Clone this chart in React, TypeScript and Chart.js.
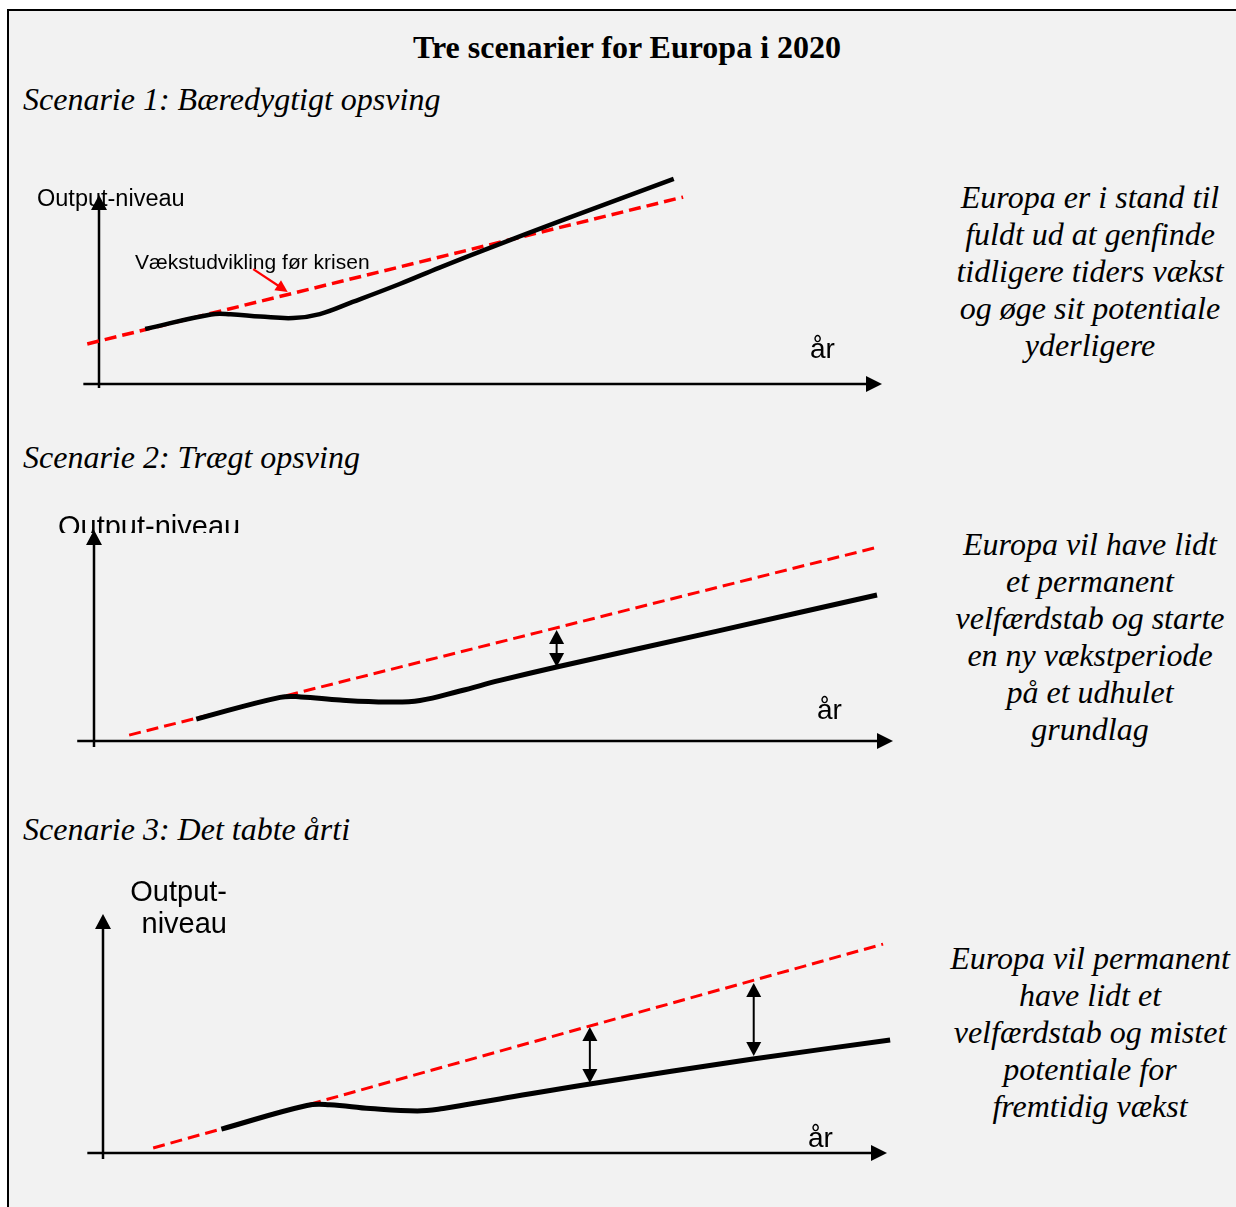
import React, { useEffect, useRef } from "react";
import { Chart, registerables } from "chart.js";

Chart.register(...registerables);

const SERIF = '"Liberation Serif", "Times New Roman", Times, serif';
const SANS = '"Liberation Sans", Arial, Helvetica, sans-serif';

// ---------- texts ----------
const titleText = "Tre scenarier for Europa i 2020";
const scenarioTitles = [
  "Scenarie 1: Bæredygtigt opsving",
  "Scenarie 2: Trægt opsving",
  "Scenarie 3: Det tabte årti",
];
const notes1 = [
  "Europa er i stand til",
  "fuldt ud at genfinde",
  "tidligere tiders vækst",
  "og øge sit potentiale",
  "yderligere",
];
const notes2 = [
  "Europa vil have lidt",
  "et permanent",
  "velfærdstab og starte",
  "en ny vækstperiode",
  "på et udhulet",
  "grundlag",
];
const notes3 = [
  "Europa vil permanent",
  "have lidt et",
  "velfærdstab og mistet",
  "potentiale for",
  "fremtidig vækst",
];
const yAxisLabel = "Output-niveau";
const yAxisLabelSplit = ["Output-", "niveau"];
const xAxisLabel = "år";
const trendLabel = "Vækstudvikling før krisen";

// ---------- data (x: år, 0..100 = x-axis; y: output-niveau, 0..100 = y-axis) ----------
// Scenario 1
const p1TrendX = [-1.5, 74.6];
const p1TrendY = [21.2, 98.9];
const p1CurveX = [5.9, 14.3, 16.8, 20.6, 24.8, 28.2, 32.4, 38.4, 43.5, 49.0, 59.8, 73.4];
const p1CurveY = [29.1, 36.8, 36.9, 35.7, 34.9, 37.0, 43.4, 52.9, 61.6, 70.6, 87.6, 108.5];
const p1PointerX = [19.7, 24.1];
const p1PointerY = [60.8, 48.7];

// Scenario 2
const p2TrendX = [4.4, 98.1];
const p2TrendY = [2.8, 91.9];
const p2CurveX = [12.8, 23.3, 25.9, 30.8, 36.7, 40.8, 45.8, 50.8, 57.9, 78.0, 98.0];
const p2CurveY = [10.4, 20.7, 20.9, 19.4, 18.5, 19.2, 23.7, 28.7, 35.1, 52.1, 69.2];
const p2GapX = [57.9];
const p2GapTop = [52.6];
const p2GapBottom = [35.1];

// Scenario 3
const p3TrendX = [6.4, 99.5];
const p3TrendY = [2.1, 87.4];
const p3CurveX = [15.1, 26.0, 28.9, 34.1, 40.1, 43.4, 46.8, 50.6, 62.1, 82.9, 100.4];
const p3CurveY = [10.0, 19.9, 20.2, 18.6, 17.6, 18.6, 20.5, 22.6, 28.9, 39.3, 47.3];
const p3GapX = [62.1, 83.0];
const p3GapTop = [52.7, 71.1];
const p3GapBottom = [29.3, 40.6];

type Label = {
  lines: string[];
  x: number;
  y: number;
  size: number;
  align: CanvasTextAlign;
  lineHeight?: number;
  clipY?: number;
};

type PanelCfg = {
  box: { left: number; top: number; width: number; height: number };
  origin: [number, number];
  tip: [number, number];
  xAxisFrom: number;
  yAxisFrom: number;
  trendX: number[];
  trendY: number[];
  curveX: number[];
  curveY: number[];
  gapX: number[];
  gapTop: number[];
  gapBottom: number[];
  pointerX?: number[];
  pointerY?: number[];
  redWidth: number;
  curveWidth: number;
  labels: Label[];
};

const panels: PanelCfg[] = [
  {
    box: { left: 20, top: 160, width: 890, height: 245 },
    origin: [99, 384],
    tip: [882, 195],
    xAxisFrom: -2.0,
    yAxisFrom: -2.1,
    trendX: p1TrendX,
    trendY: p1TrendY,
    curveX: p1CurveX,
    curveY: p1CurveY,
    gapX: [],
    gapTop: [],
    gapBottom: [],
    pointerX: p1PointerX,
    pointerY: p1PointerY,
    redWidth: 3.5,
    curveWidth: 4.5,
    labels: [
      { lines: [yAxisLabel], x: 37, y: 206, size: 23.5, align: "left" },
      { lines: [trendLabel], x: 135, y: 269, size: 21, align: "left" },
      { lines: [xAxisLabel], x: 810, y: 358, size: 28, align: "left" },
    ],
  },
  {
    box: { left: 20, top: 505, width: 890, height: 255 },
    origin: [94, 741],
    tip: [893, 530],
    xAxisFrom: -2.1,
    yAxisFrom: -2.8,
    trendX: p2TrendX,
    trendY: p2TrendY,
    curveX: p2CurveX,
    curveY: p2CurveY,
    gapX: p2GapX,
    gapTop: p2GapTop,
    gapBottom: p2GapBottom,
    redWidth: 3,
    curveWidth: 5,
    labels: [
      { lines: [yAxisLabel], x: 58, y: 536, size: 29, align: "left", clipY: 533 },
      { lines: [xAxisLabel], x: 817, y: 719, size: 28, align: "left" },
    ],
  },
  {
    box: { left: 20, top: 865, width: 890, height: 305 },
    origin: [103, 1153],
    tip: [887, 914],
    xAxisFrom: -2.0,
    yAxisFrom: -2.5,
    trendX: p3TrendX,
    trendY: p3TrendY,
    curveX: p3CurveX,
    curveY: p3CurveY,
    gapX: p3GapX,
    gapTop: p3GapTop,
    gapBottom: p3GapBottom,
    redWidth: 3,
    curveWidth: 5,
    labels: [
      { lines: yAxisLabelSplit, x: 227, y: 901, size: 29, align: "right", lineHeight: 32 },
      { lines: [xAxisLabel], x: 808, y: 1147, size: 28, align: "left" },
    ],
  },
];

function arrowHead(
  ctx: CanvasRenderingContext2D,
  tx: number,
  ty: number,
  dx: number,
  dy: number,
  len: number,
  half: number,
  color: string
) {
  const n = Math.hypot(dx, dy) || 1;
  const ux = dx / n;
  const uy = dy / n;
  const bx = tx - ux * len;
  const by = ty - uy * len;
  ctx.beginPath();
  ctx.moveTo(tx, ty);
  ctx.lineTo(bx - uy * half, by + ux * half);
  ctx.lineTo(bx + uy * half, by - ux * half);
  ctx.closePath();
  ctx.fillStyle = color;
  ctx.fill();
}

function makePlugin(cfg: PanelCfg) {
  return {
    id: "diagram",
    beforeDatasetsDraw(chart: any) {
      const ctx: CanvasRenderingContext2D = chart.ctx;
      const xs = chart.scales.x;
      const ys = chart.scales.y;
      for (const lab of cfg.labels) {
        ctx.save();
        if (lab.clipY != null) {
          ctx.beginPath();
          ctx.rect(0, 0, chart.width, lab.clipY - cfg.box.top);
          ctx.clip();
        }
        ctx.font = `${lab.size}px ${SANS}`;
        ctx.fillStyle = "#000";
        ctx.textAlign = lab.align;
        ctx.textBaseline = "alphabetic";
        lab.lines.forEach((t, i) => {
          ctx.fillText(
            t,
            lab.x - cfg.box.left,
            lab.y - cfg.box.top + i * (lab.lineHeight || lab.size * 1.15)
          );
        });
        ctx.restore();
      }
      const ox = xs.getPixelForValue(0);
      const oy = ys.getPixelForValue(0);
      const xEnd = xs.getPixelForValue(100);
      const yEnd = ys.getPixelForValue(100);
      ctx.save();
      ctx.strokeStyle = "#000";
      ctx.lineWidth = 2.5;
      ctx.beginPath();
      ctx.moveTo(xs.getPixelForValue(cfg.xAxisFrom), oy);
      ctx.lineTo(xEnd - 10, oy);
      ctx.moveTo(ox, ys.getPixelForValue(cfg.yAxisFrom));
      ctx.lineTo(ox, yEnd + 10);
      ctx.stroke();
      arrowHead(ctx, xEnd, oy, 1, 0, 16, 8, "#000");
      arrowHead(ctx, ox, yEnd, 0, -1, 15, 8, "#000");
      ctx.restore();
    },
    afterDatasetsDraw(chart: any) {
      const ctx: CanvasRenderingContext2D = chart.ctx;
      const xs = chart.scales.x;
      const ys = chart.scales.y;
      ctx.save();
      cfg.gapX.forEach((gx, i) => {
        const px = xs.getPixelForValue(gx);
        const top = ys.getPixelForValue(cfg.gapTop[i]);
        const bot = ys.getPixelForValue(cfg.gapBottom[i]);
        ctx.strokeStyle = "#000";
        ctx.lineWidth = 2;
        ctx.beginPath();
        ctx.moveTo(px, top + 10);
        ctx.lineTo(px, bot - 10);
        ctx.stroke();
        arrowHead(ctx, px, top, 0, -1, 14, 7.5, "#000");
        arrowHead(ctx, px, bot, 0, 1, 14, 7.5, "#000");
      });
      if (cfg.pointerX && cfg.pointerY) {
        const x0 = xs.getPixelForValue(cfg.pointerX[0]);
        const y0 = ys.getPixelForValue(cfg.pointerY[0]);
        const x1 = xs.getPixelForValue(cfg.pointerX[1]);
        const y1 = ys.getPixelForValue(cfg.pointerY[1]);
        const dx = x1 - x0;
        const dy = y1 - y0;
        const n = Math.hypot(dx, dy);
        ctx.strokeStyle = "#ff0000";
        ctx.lineWidth = 2.2;
        ctx.beginPath();
        ctx.moveTo(x0, y0);
        ctx.lineTo(x1 - (dx / n) * 9, y1 - (dy / n) * 9);
        ctx.stroke();
        arrowHead(ctx, x1, y1, dx, dy, 12, 6, "#ff0000");
      }
      ctx.restore();
    },
  };
}

function Panel({ cfg }: { cfg: PanelCfg }) {
  const ref = useRef<HTMLCanvasElement | null>(null);
  useEffect(() => {
    if (!ref.current) return;
    const { box, origin, tip } = cfg;
    const unitX = (tip[0] - origin[0]) / 100;
    const unitY = (origin[1] - tip[1]) / 100;
    const xMin = (box.left - origin[0]) / unitX;
    const xMax = (box.left + box.width - origin[0]) / unitX;
    const yMin = (origin[1] - (box.top + box.height)) / unitY;
    const yMax = (origin[1] - box.top) / unitY;
    const chart = new Chart(ref.current, {
      type: "scatter",
      data: {
        datasets: [
          {
            label: "Output",
            data: cfg.curveX.map((x, i) => ({ x, y: cfg.curveY[i] })),
            showLine: true,
            borderColor: "#000000",
            backgroundColor: "#000000",
            borderWidth: cfg.curveWidth,
            pointRadius: 0,
            tension: 0.4,
            fill: false,
          },
          {
            label: "Trend",
            data: cfg.trendX.map((x, i) => ({ x, y: cfg.trendY[i] })),
            showLine: true,
            borderColor: "#ff0000",
            backgroundColor: "#ff0000",
            borderWidth: cfg.redWidth,
            borderDash: [12, 6],
            pointRadius: 0,
            fill: false,
          },
        ],
      },
      options: {
        animation: false,
        responsive: true,
        maintainAspectRatio: false,
        layout: { padding: 0 },
        events: [],
        plugins: {
          legend: { display: false },
          tooltip: { enabled: false },
          title: { display: false },
        },
        scales: {
          x: { type: "linear", display: false, min: xMin, max: xMax },
          y: { type: "linear", display: false, min: yMin, max: yMax },
        },
      } as any,
      plugins: [makePlugin(cfg)],
    });
    return () => chart.destroy();
  }, [cfg]);
  return (
    <div
      style={{
        position: "absolute",
        left: cfg.box.left,
        top: cfg.box.top,
        width: cfg.box.width,
        height: cfg.box.height,
      }}
    >
      <canvas ref={ref} />
    </div>
  );
}

const noteBlocks = [
  { lines: notes1, top: 179 },
  { lines: notes2, top: 526 },
  { lines: notes3, top: 940 },
];
const headingTops = [81, 439, 811];

export default function App() {
  return (
    <div
      style={{
        position: "absolute",
        left: 0,
        top: 0,
        width: 1236,
        height: 1207,
        background: "#ffffff",
        overflow: "hidden",
      }}
    >
      <div
        style={{
          position: "absolute",
          left: 7,
          top: 9,
          width: 1240,
          height: 1210,
          background: "#f2f2f2",
          borderTop: "2px solid #000",
          borderLeft: "2px solid #000",
        }}
      />
      <div
        style={{
          position: "absolute",
          left: 627,
          top: 29,
          transform: "translateX(-50%)",
          font: `bold 32px ${SERIF}`,
          lineHeight: "37px",
          whiteSpace: "nowrap",
          color: "#000",
        }}
      >
        {titleText}
      </div>
      {scenarioTitles.map((t, i) => (
        <div
          key={t}
          style={{
            position: "absolute",
            left: 23,
            top: headingTops[i],
            font: `italic 32px ${SERIF}`,
            lineHeight: "37px",
            whiteSpace: "nowrap",
            color: "#000",
          }}
        >
          {t}
        </div>
      ))}
      {noteBlocks.map((b, i) => (
        <div
          key={i}
          style={{
            position: "absolute",
            left: 1090,
            top: b.top,
            transform: "translateX(-50%)",
            font: `italic 32px ${SERIF}`,
            lineHeight: "37px",
            whiteSpace: "nowrap",
            textAlign: "center",
            color: "#000",
          }}
        >
          {b.lines.map((l) => (
            <div key={l}>{l}</div>
          ))}
        </div>
      ))}
      {panels.map((p, i) => (
        <Panel key={i} cfg={p} />
      ))}
    </div>
  );
}
